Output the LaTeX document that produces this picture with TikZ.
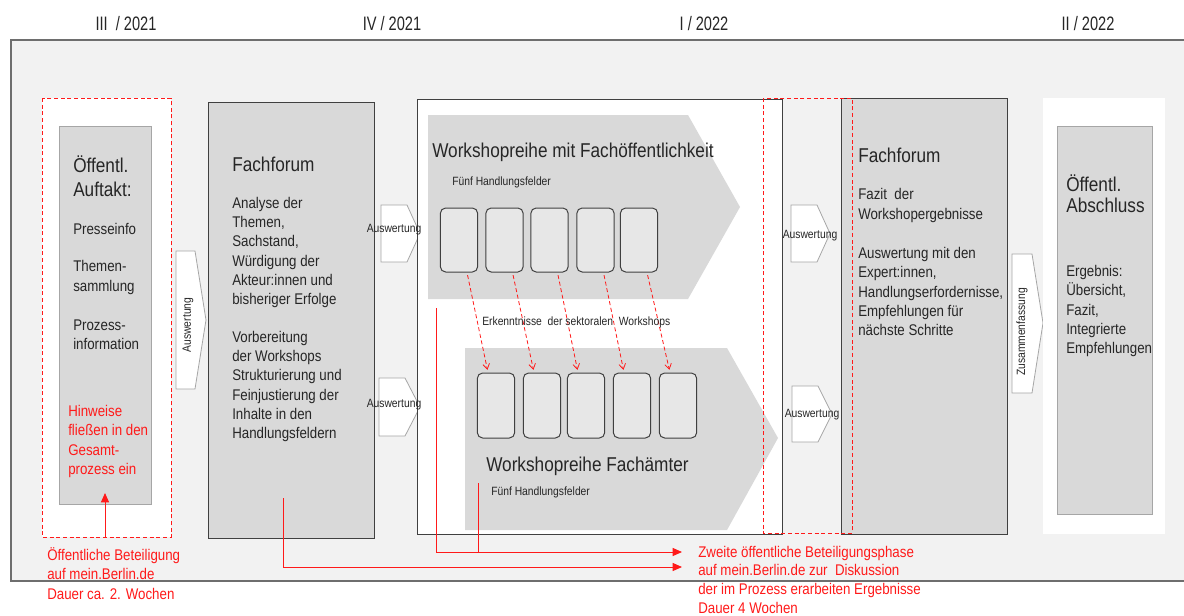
\documentclass[tikz,border=0pt]{standalone}
\usepackage{fontspec}
\setmainfont{Liberation Sans}[FakeStretch=0.86]
\newfontfamily\hdrfont{Liberation Sans}[FakeStretch=0.75]
\usetikzlibrary{arrows.meta}
\definecolor{frameBg}{HTML}{F2F2F2}
\definecolor{frameLine}{HTML}{6E6E6E}
\definecolor{boxGray}{HTML}{D9D9D9}
\definecolor{cardGray}{HTML}{E7E7E7}
\definecolor{darkLine}{HTML}{404040}
\definecolor{lightLine}{HTML}{A6A6A6}
\definecolor{txt}{HTML}{262626}
\definecolor{redc}{HTML}{FF1A1A}
\begin{document}
\begin{tikzpicture}[x=0.75pt,y=-0.75pt,
  txtbase/.style={inner sep=0pt, text=txt, align=left},
  bodytxt/.style={txtbase, anchor=west, font=\fontsize{11.6}{14.5}\selectfont},
  titletxt/.style={txtbase, anchor=west, font=\fontsize{15}{18}\selectfont},
  smalltxt/.style={txtbase, anchor=west, font=\fontsize{9}{11}\selectfont},
  redtxt/.style={bodytxt, text=redc},
  hdrtxt/.style={inner sep=0pt, text=txt, font=\hdrfont\fontsize{14.6}{18}\selectfont},
  arrlbl/.style={inner sep=0pt, text=txt, font=\fontsize{9}{11}\selectfont},
  chev/.style={draw=lightLine, fill=white, line width=0.6pt},
  graybox/.style={fill=boxGray, draw=lightLine, line width=0.75pt},
  forumbox/.style={fill=boxGray, draw=darkLine, line width=0.75pt},
  card/.style={draw=darkLine, fill=cardGray, rounded corners=4pt, line width=0.75pt, minimum width=28pt, minimum height=48pt, inner sep=0pt},
  redline/.style={draw=redc, line width=0.75pt},
  redarrow/.style={redline, -{Triangle[length=7pt,width=6pt]}},
  dasharrow/.style={draw=redc, line width=0.6pt, dash pattern=on 3pt off 2pt, -{Straight Barb[length=4pt,width=5pt]}, shorten <=2pt, shorten >=2pt},
  reddash/.style={draw=redc, line width=0.75pt, dash pattern=on 3pt off 2pt},
]
\useasboundingbox (0,0) rectangle (1184,615);
\fill[white] (0,0) rectangle (1184,615);

% header
\node[hdrtxt] (h1) at (126,24) {III \ / 2021};
\node[hdrtxt] (h2) at (392,24) {IV / 2021};
\node[hdrtxt] (h3) at (704,24) {I / 2022};
\node[hdrtxt] (h4) at (1088,24) {II / 2022};

% frame
\draw[draw=frameLine, line width=1.1pt, fill=frameBg] (11,40) rectangle (1200,581);

% left public kickoff
\draw[reddash, fill=white] (42,98) rectangle (171,537);
\draw[graybox] (59,126) rectangle (151,504);
\draw[chev] (176,251) -- (195,251) -- (206,320) -- (195,389) -- (176,389) -- cycle;
\node[arrlbl, rotate=90] (aw0) at (188,325) {Auswertung};

% Fachforum 1
\draw[forumbox] (208,102) rectangle (374,538);
\draw[chev] (381,205) -- (407,205) -- (420,233.5) -- (407,262) -- (381,262) -- cycle;
\draw[chev] (379,378) -- (405,378) -- (420,407) -- (405,436) -- (379,436) -- cycle;

% middle workshops
\draw[draw=darkLine, fill=white, line width=0.75pt] (417,99) rectangle (782,534);
\fill[boxGray] (428,115) -- (688,115) -- (740,207) -- (688,299) -- (428,299) -- cycle;
\fill[boxGray] (465,348) -- (727,348) -- (778,438) -- (727,530) -- (465,530) -- cycle;
\node[arrlbl] (aw1) at (394,230) {Auswertung};
\node[arrlbl] (aw2) at (394,405) {Auswertung};

\node[card] (t1) at (459,240) {};
\node[card] (t2) at (504.5,240) {};
\node[card] (t3) at (549.5,240) {};
\node[card] (t4) at (595.5,240) {};
\node[card] (t5) at (639,240) {};
\node[card, minimum height=48.75pt] (b1) at (496,405.5) {};
\node[card, minimum height=48.75pt] (b2) at (542,405.5) {};
\node[card, minimum height=48.75pt] (b3) at (586,405.5) {};
\node[card, minimum height=48.75pt] (b4) at (632,405.5) {};
\node[card, minimum height=48.75pt] (b5) at (678,405.5) {};

\foreach \i in {1,...,5}{
  \draw[dasharrow] ([xshift=6pt]t\i.south) -- ([xshift=-6pt]b\i.north);
}

% right Auswertung arrows
\draw[chev] (791,205) -- (817,205) -- (830,233.5) -- (817,262) -- (791,262) -- cycle;
\node[arrlbl] (aw3) at (810,236) {Auswertung};
\draw[chev] (792,386) -- (818,386) -- (832,414) -- (818,442) -- (792,442) -- cycle;
\node[arrlbl] (aw4) at (812,415) {Auswertung};

% Fachforum 2
\draw[forumbox] (841,98) rectangle (1007,534);
\draw[reddash] (763,98) rectangle (852,533);

% Zusammenfassung
\draw[chev] (1012,254) -- (1032,254) -- (1043,323) -- (1032,393) -- (1012,393) -- cycle;
\node[arrlbl, rotate=90] (zf) at (1022,332) {Zusammenfassung};

% closing
\fill[white] (1043,98) rectangle (1165,534);
\draw[graybox] (1057,126) rectangle (1152,514);

% red connectors
\coordinate (p1) at (436,308);
\coordinate (p2) at (478,483);
\coordinate (p2b) at (478,552);
\coordinate (q1) at (682,552);
\draw[redarrow] (p1) |- (q1);
\draw[redline] (p2) -- (p2b);
\coordinate (f1) at (283,498);
\coordinate (q2) at (682,567);
\draw[redarrow] (f1) |- (q2);
\coordinate (a0) at (105,537);
\coordinate (a0t) at (105,493);
\draw[redarrow] (a0) -- (a0t);

% texts left box
\node[titletxt] (l1) at (73,176) {Öffentl.\\Auftakt:};
\node[bodytxt] (l2) at (73,229) {Presseinfo};
\node[bodytxt] (l3) at (73,277.5) {Themen-\\sammlung};
\node[bodytxt] (l4) at (73,334.5) {Prozess-\\information};
\node[redtxt] (l5) at (68,441.5) {Hinweise\\fließen in den\\Gesamt-\\prozess ein};
\node[redtxt] (l6) at (47,573.5) {Öffentliche Beteiligung\\auf mein.Berlin.de\\Dauer ca. 2. Wochen};

% Fachforum 1 texts
\node[titletxt] (f1t) at (232,164) {Fachforum};
\node[bodytxt] (f1a) at (232,252.5) {Analyse der\\Themen,\\Sachstand,\\Würdigung der\\Akteur:innen und\\bisheriger Erfolge};
\node[bodytxt] (f1b) at (232,386.5) {Vorbereitung\\der Workshops\\Strukturierung und\\Feinjustierung der\\Inhalte in den\\Handlungsfeldern};

% workshop texts
\node[titletxt] (w1) at (432,152) {Workshopreihe mit Fachöffentlichkeit};
\node[smalltxt] (w1s) at (452,182) {Fünf Handlungsfelder};
\node[smalltxt] (erk) at (482,322) {Erkenntnisse \ der sektoralen \ Workshops};
\node[titletxt] (w2) at (486,466) {Workshopreihe Fachämter};
\node[smalltxt] (w2s) at (491,492) {Fünf Handlungsfelder};
\node[redtxt, font=\fontsize{11.6}{14}\selectfont] (r2) at (698,579.5) {Zweite öffentliche Beteiligungsphase\\auf mein.Berlin.de zur \ Diskussion\\der im Prozess erarbeiten Ergebnisse\\Dauer 4 Wochen};

% Fachforum 2 texts
\node[titletxt] (f2t) at (858,155) {Fachforum};
\node[bodytxt] (f2a) at (858,205.5) {Fazit \ der\\Workshopergebnisse};
\node[bodytxt] (f2b) at (858,291.5) {Auswertung mit den\\Expert:innen,\\Handlungserfordernisse,\\Empfehlungen für\\nächste Schritte};

% closing texts
\node[titletxt, font=\fontsize{15}{15.75}\selectfont] (c1) at (1066,193.5) {Öffentl.\\Abschluss};
\node[bodytxt] (c2) at (1066,311) {Ergebnis:\\Übersicht,\\Fazit,\\Integrierte\\Empfehlungen};
\end{tikzpicture}
\end{document}
